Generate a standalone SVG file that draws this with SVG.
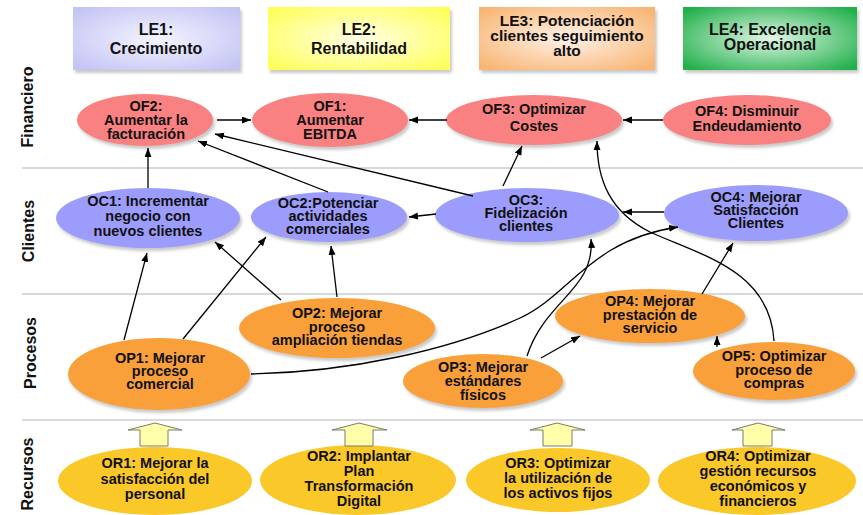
<svg xmlns="http://www.w3.org/2000/svg" width="863" height="515" viewBox="0 0 863 515">
<defs>
<style>
text{font-family:"Liberation Sans",Arial,sans-serif;font-weight:bold;fill:#111;text-anchor:middle}
.hd{font-size:16px}
.nd{font-size:14.5px}
.row{font-size:16px}
.sep{stroke:#d9d9d9;stroke-width:2}
.of{fill:#f98181}
.oc{fill:#9c9cfc}
.op{fill:#f9a03a}
.or{fill:#fbc829}
.con{fill:none;stroke:#000;stroke-width:1.3;marker-end:url(#ah)}
.blk{fill:#ffffaa;stroke:#7a7a6a;stroke-width:1}
</style>
<filter id="sh" x="-10%" y="-10%" width="125%" height="130%">
<feDropShadow dx="2" dy="3" stdDeviation="1.5" flood-color="#888" flood-opacity="0.45"/>
</filter>
<radialGradient id="g1" cx="50%" cy="50%" r="65%"><stop offset="0" stop-color="#f4f4ff"/><stop offset="1" stop-color="#c4c4f4"/></radialGradient>
<radialGradient id="g2" cx="50%" cy="50%" r="65%"><stop offset="0" stop-color="#ffffe6"/><stop offset="1" stop-color="#ffff5a"/></radialGradient>
<radialGradient id="g3" cx="50%" cy="50%" r="65%"><stop offset="0" stop-color="#fff3ea"/><stop offset="1" stop-color="#f8b574"/></radialGradient>
<radialGradient id="g4" cx="50%" cy="50%" r="65%"><stop offset="0" stop-color="#e2f6e6"/><stop offset="1" stop-color="#22b04c"/></radialGradient>
<marker id="ah" markerUnits="userSpaceOnUse" markerWidth="10" markerHeight="8" refX="9" refY="3.5" orient="auto">
<path d="M0,0 L9,3.5 L0,7 z" fill="#000"/>
</marker>
</defs>
<rect width="863" height="515" fill="#fff"/>

<g id="rows">
<line class="sep" x1="22" y1="168" x2="863" y2="168"/>
<line class="sep" x1="22" y1="294" x2="863" y2="294"/>
<line class="sep" x1="22" y1="420" x2="863" y2="420"/>
<text class="row" x="33" y="107" transform="rotate(-90 33 107)">Financiero</text>
<text class="row" x="34" y="231" transform="rotate(-90 34 231)">Clientes</text>
<text class="row" x="36" y="353" transform="rotate(-90 36 353)">Procesos</text>
<text class="row" x="33" y="474" transform="rotate(-90 33 474)">Recursos</text>
</g>

<g id="LE1"><rect x="73" y="7" width="167" height="63" fill="url(#g1)" filter="url(#sh)"/>
<text class="hd" x="156" y="35">LE1:</text><text class="hd" x="156" y="54">Crecimiento</text></g>
<g id="LE2"><rect x="268" y="7" width="182" height="63" fill="url(#g2)" filter="url(#sh)"/>
<text class="hd" x="359" y="35">LE2:</text><text class="hd" x="359" y="54">Rentabilidad</text></g>
<g id="LE3"><rect x="479" y="7" width="176" height="63" fill="url(#g3)" filter="url(#sh)"/>
<text class="hd" x="567" y="26" style="font-size:15.5px">LE3: Potenciación</text><text class="hd" x="567" y="41" style="font-size:15.5px">clientes seguimiento</text><text class="hd" x="567" y="56" style="font-size:15.5px">alto</text></g>
<g id="LE4"><rect x="683" y="7" width="174" height="63" fill="url(#g4)" filter="url(#sh)"/>
<text class="hd" x="770" y="35">LE4: Excelencia</text><text class="hd" x="770" y="50">Operacional</text></g>

<g id="OF2"><ellipse class="of" cx="145" cy="120" rx="68" ry="26" filter="url(#sh)"/>
<text class="nd" x="146" y="111">OF2:</text><text class="nd" x="146" y="125">Aumentar la</text><text class="nd" x="146" y="139">facturación</text></g>
<g id="OF1"><ellipse class="of" cx="330" cy="120" rx="78" ry="27" filter="url(#sh)"/>
<text class="nd" x="330" y="111">OF1:</text><text class="nd" x="330" y="125">Aumentar</text><text class="nd" x="330" y="139">EBITDA</text></g>
<g id="OF3"><ellipse class="of" cx="534" cy="120" rx="88" ry="25" filter="url(#sh)"/>
<text class="nd" x="534" y="114">OF3: Optimizar</text><text class="nd" x="534" y="131">Costes</text></g>
<g id="OF4"><ellipse class="of" cx="747" cy="120" rx="84" ry="25" filter="url(#sh)"/>
<text class="nd" x="747" y="116">OF4: Disminuir</text><text class="nd" x="747" y="131">Endeudamiento</text></g>

<g id="OC1"><ellipse class="oc" cx="148" cy="218" rx="92" ry="30" filter="url(#sh)"/>
<text class="nd" x="148" y="206">OC1: Incrementar</text><text class="nd" x="148" y="221">negocio con</text><text class="nd" x="148" y="236">nuevos clientes</text></g>
<g id="OC2"><ellipse class="oc" cx="329" cy="217" rx="78" ry="25" filter="url(#sh)"/>
<text class="nd" x="328" y="208">OC2:Potenciar</text><text class="nd" x="328" y="221">actividades</text><text class="nd" x="328" y="234">comerciales</text></g>
<g id="OC3"><ellipse class="oc" cx="527" cy="215" rx="92" ry="27" filter="url(#sh)"/>
<text class="nd" x="526" y="205">OC3:</text><text class="nd" x="526" y="218">Fidelización</text><text class="nd" x="526" y="231">clientes</text></g>
<g id="OC4"><ellipse class="oc" cx="756" cy="213" rx="92" ry="28" filter="url(#sh)"/>
<text class="nd" x="756" y="202">OC4: Mejorar</text><text class="nd" x="756" y="215">Satisfacción</text><text class="nd" x="756" y="228">Clientes</text></g>

<g id="OP1"><ellipse class="op" cx="159" cy="374" rx="91" ry="36" filter="url(#sh)"/>
<text class="nd" x="160" y="363">OP1: Mejorar</text><text class="nd" x="160" y="376">proceso</text><text class="nd" x="160" y="389">comercial</text></g>
<g id="OP2"><ellipse class="op" cx="337" cy="328" rx="98" ry="30" filter="url(#sh)"/>
<text class="nd" x="337" y="318">OP2: Mejorar</text><text class="nd" x="337" y="332">proceso</text><text class="nd" x="337" y="345">ampliación tiendas</text></g>
<g id="OP3"><ellipse class="op" cx="483" cy="381" rx="80" ry="27" filter="url(#sh)"/>
<text class="nd" x="483" y="372">OP3: Mejorar</text><text class="nd" x="483" y="386">estándares</text><text class="nd" x="483" y="400">físicos</text></g>
<g id="OP4"><ellipse class="op" cx="650" cy="316" rx="95" ry="27" filter="url(#sh)"/>
<text class="nd" x="650" y="306">OP4: Mejorar</text><text class="nd" x="650" y="320">prestación de</text><text class="nd" x="650" y="333">servicio</text></g>
<g id="OP5"><ellipse class="op" cx="774" cy="371" rx="81" ry="29" filter="url(#sh)"/>
<text class="nd" x="774" y="361">OP5: Optimizar</text><text class="nd" x="774" y="375">proceso de</text><text class="nd" x="774" y="388">compras</text></g>

<g id="OR1"><ellipse class="or" cx="155" cy="481" rx="97" ry="34"/>
<text class="nd" x="155" y="468">OR1: Mejorar la</text><text class="nd" x="155" y="484">satisfacción del</text><text class="nd" x="155" y="499">personal</text></g>
<g id="OR2"><ellipse class="or" cx="358" cy="480" rx="98" ry="35"/>
<text class="nd" x="359" y="461">OR2: Implantar</text><text class="nd" x="359" y="476">Plan</text><text class="nd" x="359" y="491">Transformación</text><text class="nd" x="359" y="506">Digital</text></g>
<g id="OR3"><ellipse class="or" cx="558" cy="480" rx="92" ry="32"/>
<text class="nd" x="558" y="468">OR3: Optimizar</text><text class="nd" x="558" y="483">la utilización de</text><text class="nd" x="558" y="498">los activos fijos</text></g>
<g id="OR4"><ellipse class="or" cx="757" cy="481" rx="99" ry="34"/>
<text class="nd" x="758" y="461">OR4: Optimizar</text><text class="nd" x="758" y="476">gestión recursos</text><text class="nd" x="758" y="491">económicos y</text><text class="nd" x="758" y="506">financieros</text></g>

<g id="blockarrows">
<polygon class="blk" points="155,423 182,430 168,430 168,446 140,446 140,430 128,430"/>
<polygon class="blk" points="359,423 387,430 373,430 373,446 345,446 345,430 332,430"/>
<polygon class="blk" points="557,423 585,430 572,430 572,446 543,446 543,430 530,430"/>
<polygon class="blk" points="758,423 785,430 772,430 772,446 743,446 743,430 732,430"/>
</g>

<g id="connectors">
<path class="con" d="M217 120 L251 120"/>
<path class="con" d="M447 120 L409 120"/>
<path class="con" d="M663 120 L623 120"/>
<path class="con" d="M148 188 L148 148"/>
<path class="con" d="M328 192 L198 141"/>
<path class="con" d="M473 196 L215 134"/>
<path class="con" d="M503 186 L522 146"/>
<path class="con" d="M664 212 L623 212"/>
<path class="con" d="M436 214 L409 217"/>
<path class="con" d="M124 340 L147 253"/>
<path class="con" d="M183 339 L266 237"/>
<path class="con" d="M281 300 L215 242"/>
<path class="con" d="M337 297 L331 246"/>
<path class="con" d="M251 374 C350 372 450 350 520 318 C570 295 590 240 678 227"/>
<path class="con" d="M527 356 C545 300 595 290 591 239"/>
<path class="con" d="M774 341 C770 270 700 255 650 232 C610 212 597 180 597 141"/>
<path class="con" d="M541 358 L580 336"/>
<path class="con" d="M717 347 L717 336"/>
<path class="con" d="M702 294 L733 243"/>
</g>
</svg>
